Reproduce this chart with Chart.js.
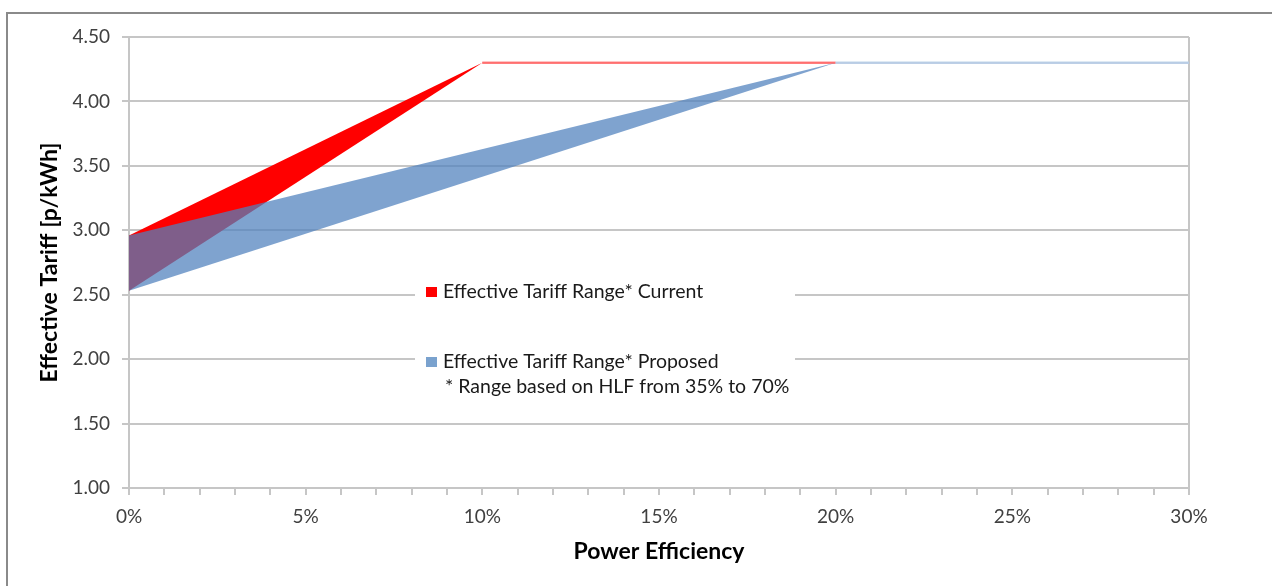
<!DOCTYPE html>
<html>
<head>
<meta charset="utf-8">
<script src="https://cdn.jsdelivr.net/npm/chart.js@4/dist/chart.umd.min.js"></script>
<style>
  html, body { margin: 0; padding: 0; background: #fff; }
  #wrap { position: relative; width: 1272px; height: 586px; }
</style>
</head>
<body>
<div id="wrap"><canvas id="tariffChart"></canvas></div>
<script>
// power efficiency (%) where each band changes slope
var currentX = [0, 10, 20];
var currentLow = [2.53, 4.30, 4.30];
var currentHigh = [2.96, 4.30, 4.30];

var proposedX = [0, 20, 30];
var proposedLow = [2.53, 4.30, 4.30];
var proposedHigh = [2.96, 4.30, 4.30];

var seriesLabels = ['Effective Tariff Range* Current', 'Effective Tariff Range* Proposed'];
var footnote = '* Range based on HLF from 35% to 70%';
var xTitle = 'Power Efficiency';
var yTitle = 'Effective Tariff [p/kWh]';

var RED = 'rgb(255,0,0)';
var BLUE = 'rgba(79,129,189,0.73)';
var GRID = '#c6c6c6';
var FONT = 'Lato, "Open Sans", sans-serif';

function pts(xs, ys) {
	return xs.map(function (x, i) { return {x: x, y: ys[i]}; });
}

// only the flat tail of a band gets a visible line
function flatColor(col) {
	return function (ctx) {
		return ctx.p0.parsed.y === ctx.p1.parsed.y ? col : 'transparent';
	};
}

var framePlugin = {
	id: 'frame',
	beforeDraw: function (chart) {
		var c = chart.ctx;
		c.save();
		c.strokeStyle = '#8a8a8a';
		c.lineWidth = 2;
		c.beginPath();
		c.moveTo(7, chart.height);
		c.lineTo(7, 13);
		c.lineTo(chart.width, 13);
		c.stroke();
		c.restore();
	}
};

var legendPlugin = {
	id: 'insideLegend',
	afterDraw: function (chart) {
		var c = chart.ctx, a = chart.chartArea;
		var x0 = a.left + 286, y0 = a.top + 234;
		c.save();
		c.fillStyle = '#fff';
		c.fillRect(x0, y0, 380, 135);
		var colors = [RED, 'rgb(122,162,206)'];
		c.font = '19.5px ' + FONT;
		c.textBaseline = 'middle';
		seriesLabels.forEach(function (lab, i) {
			var yy = y0 + 21 + i * 70;
			c.fillStyle = colors[i];
			c.fillRect(x0 + 11, yy - 5, 11, 10);
			c.fillStyle = '#1a1a1a';
			c.fillText(lab, x0 + 28, yy);
		});
		c.fillText(footnote, x0 + 30, y0 + 116);
		c.restore();
	}
};

var config = {
	type: 'line',
	data: {
		datasets: [{
			label: seriesLabels[1],
			data: pts(proposedX, proposedHigh),
			backgroundColor: BLUE,
			fill: '+1',
			order: 0,
			borderWidth: 2,
			segment: {borderColor: flatColor('rgba(185,205,229,1)')}
		}, {
			label: seriesLabels[1] + ' low',
			data: pts(proposedX, proposedLow),
			fill: false,
			order: 0,
			borderWidth: 2,
			segment: {borderColor: flatColor('rgba(185,205,229,1)')}
		}, {
			label: seriesLabels[0],
			data: pts(currentX, currentHigh),
			backgroundColor: RED,
			fill: '+1',
			order: 1,
			borderWidth: 2,
			segment: {borderColor: flatColor('rgba(255,110,110,0.9)')}
		}, {
			label: seriesLabels[0] + ' low',
			data: pts(currentX, currentLow),
			fill: false,
			order: 1,
			borderWidth: 2,
			segment: {borderColor: flatColor('rgba(255,110,110,0.9)')}
		}]
	},
	options: {
		responsive: true,
		maintainAspectRatio: false,
		animation: false,
		elements: {point: {radius: 0, hoverRadius: 0}, line: {tension: 0}},
		layout: {padding: {left: 0, top: 37, right: 83, bottom: 0}},
		plugins: {legend: {display: false}, tooltip: {enabled: false}},
		scales: {
			x: {
				type: 'linear',
				min: 0,
				max: 30,
				afterFit: function (s) { s.height = 98; },
				border: {color: GRID, width: 2},
				grid: {
					drawOnChartArea: true,
					color: function (ctx) { return ctx.tick && ctx.tick.value === 30 ? GRID : 'transparent'; },
					tickColor: GRID,
					tickLength: 7,
					lineWidth: 2
				},
				ticks: {
					stepSize: 1,
					autoSkip: false,
					maxRotation: 0,
					padding: 10,
					color: '#404040',
					font: {family: FONT, size: 19},
					callback: function (v) { return v % 5 === 0 ? v + '%' : ''; }
				},
				title: {
					display: true,
					text: xTitle,
					color: '#000',
					font: {family: FONT, size: 23, weight: 'bold'},
					padding: {top: 0, bottom: 21}
				}
			},
			y: {
				min: 1,
				max: 4.5,
				afterFit: function (s) { s.width = 129; },
				border: {color: GRID, width: 2},
				grid: {color: GRID, lineWidth: 2, tickLength: 7},
				ticks: {
					stepSize: 0.5,
					padding: 12,
					color: '#404040',
					font: {family: FONT, size: 19},
					callback: function (v) { return v.toFixed(2); }
				},
				title: {
					display: true,
					text: yTitle,
					color: '#000',
					font: {family: FONT, size: 23, weight: 'bold'},
					padding: {top: 36, bottom: 0}
				}
			}
		}
	},
	plugins: [framePlugin, legendPlugin]
};

var ctx = document.getElementById('tariffChart').getContext('2d');
var tariffChart = new Chart(ctx, config);
</script>
</body>
</html>
